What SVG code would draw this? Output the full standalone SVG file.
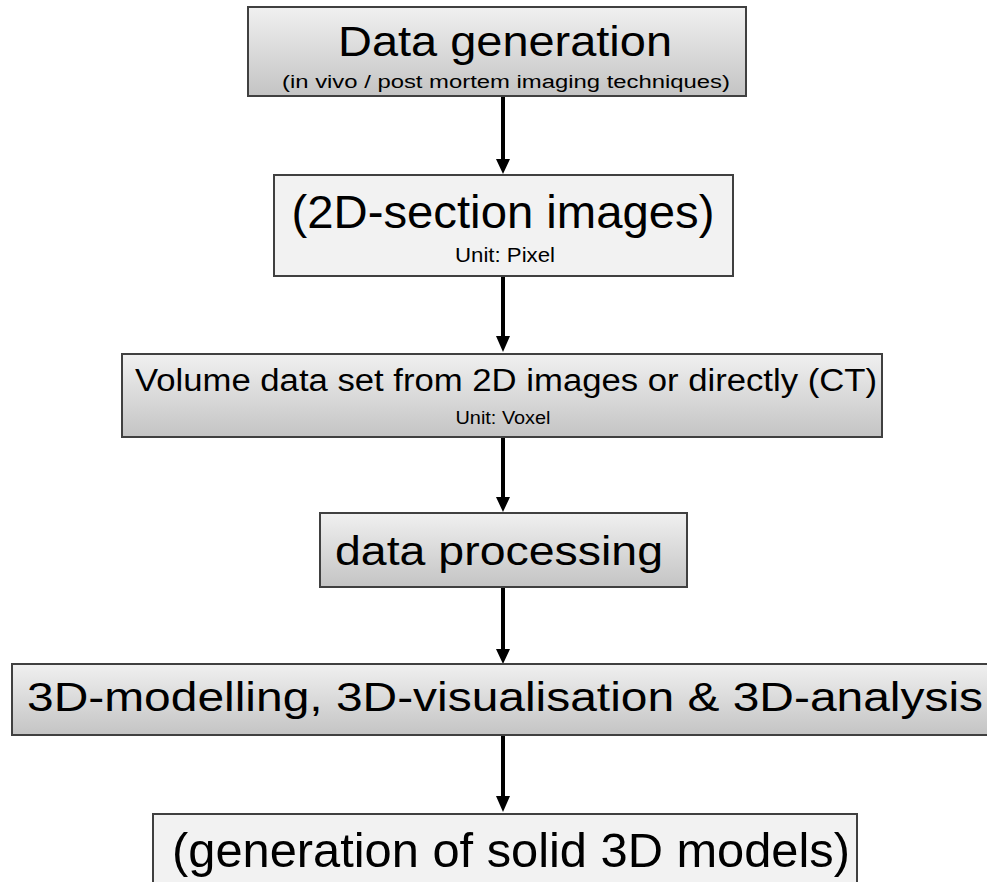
<svg xmlns="http://www.w3.org/2000/svg" width="987" height="882" viewBox="0 0 987 882">
<defs>
<linearGradient id="g" x1="0" y1="0" x2="0" y2="1">
<stop offset="0" stop-color="#f0f0f0"/>
<stop offset="1" stop-color="#c4c4c4"/>
</linearGradient>
</defs>
<style>
.box{stroke:#404040;stroke-width:2}
.grad{fill:url(#g)}
.flat{fill:#f2f2f2}
text{font-family:"Liberation Sans",Arial,sans-serif;fill:#000;text-anchor:middle}
.conn{stroke:#000;stroke-width:4;fill:none}
.head{fill:#000}
</style>
<rect width="987" height="882" fill="#fff"/>
<g id="connectors">
<line class="conn" x1="503" y1="97" x2="503" y2="162"/>
<path class="head" d="M496,159 L510,159 L503,174 Z"/>
<line class="conn" x1="503" y1="276" x2="503" y2="339"/>
<path class="head" d="M496,336 L510,336 L503,352 Z"/>
<line class="conn" x1="503" y1="437" x2="503" y2="500"/>
<path class="head" d="M496,497 L510,497 L503,512 Z"/>
<line class="conn" x1="503" y1="587" x2="503" y2="652"/>
<path class="head" d="M496,649 L510,649 L503,664 Z"/>
<line class="conn" x1="503" y1="735" x2="503" y2="799"/>
<path class="head" d="M496,796 L510,796 L503,812 Z"/>
</g>
<g id="node1">
<rect class="box grad" x="248" y="7" width="498" height="89"/>
<text x="505" y="56" font-size="42" textLength="334" lengthAdjust="spacingAndGlyphs">Data generation</text>
<text x="506" y="88" font-size="18" textLength="448" lengthAdjust="spacingAndGlyphs">(in vivo / post mortem imaging techniques)</text>
</g>
<g id="node2">
<rect class="box flat" x="274" y="175" width="459" height="101"/>
<text x="503" y="228" font-size="47" textLength="423" lengthAdjust="spacingAndGlyphs">(2D-section images)</text>
<text x="505" y="262" font-size="20" textLength="100" lengthAdjust="spacingAndGlyphs">Unit: Pixel</text>
</g>
<g id="node3">
<rect class="box grad" x="122" y="354" width="760" height="83"/>
<text x="506" y="391" font-size="31" textLength="742" lengthAdjust="spacingAndGlyphs">Volume data set from 2D images or directly (CT)</text>
<text x="503" y="424" font-size="18" textLength="95" lengthAdjust="spacingAndGlyphs">Unit: Voxel</text>
</g>
<g id="node4">
<rect class="box grad" x="320" y="513" width="367" height="74"/>
<text x="499" y="565" font-size="41" textLength="328" lengthAdjust="spacingAndGlyphs">data processing</text>
</g>
<g id="node5">
<rect class="box grad" x="12" y="664" width="990" height="71"/>
<text x="505" y="711" font-size="40" textLength="956" lengthAdjust="spacingAndGlyphs">3D-modelling, 3D-visualisation &amp; 3D-analysis</text>
</g>
<g id="node6">
<rect class="box flat" x="153" y="814" width="704" height="90"/>
<text x="511" y="867" font-size="48" textLength="678" lengthAdjust="spacingAndGlyphs">(generation of solid 3D models)</text>
</g>
</svg>
